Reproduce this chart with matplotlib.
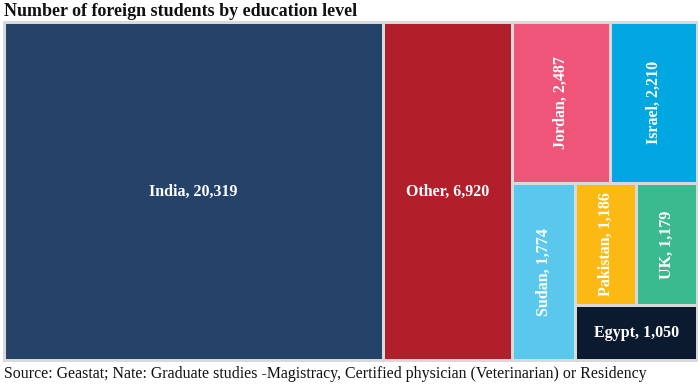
import matplotlib
matplotlib.use("Agg")
import matplotlib.pyplot as plt
from matplotlib.patches import Rectangle

countries = ["India", "Other", "Jordan", "Israel", "Sudan", "Pakistan", "UK", "Egypt"]
students = [20319, 6920, 2487, 2210, 1774, 1186, 1179, 1050]
colors = ["#254369", "#b11f2b", "#ef5479", "#00a7e1", "#5ac8ec", "#fdb913", "#3bb98f", "#0b1a2e"]

# nesting of the tiles: "h" splits side by side, "v" stacks top to bottom
layout = ("h", [0, 1, ("v", [("h", [2, 3]), ("h", [4, ("v", [("h", [5, 6]), 7])])])])

title = "Number of foreign students by education level"
source = "Source: Geastat; Nate: Graduate studies -Magistracy, Certified physician (Veterinarian) or Residency"

SERIF = ["Liberation Serif", "DejaVu Serif"]


def total(node):
    if isinstance(node, int):
        return students[node]
    return sum(total(c) for c in node[1])


def place(node, x, y, w, h, out):
    if isinstance(node, int):
        out[node] = (x, y, w, h)
        return
    direction, children = node
    s = total(node)
    pos = 0.0
    for c in children:
        frac = total(c) / s
        if direction == "h":
            place(c, x + pos * w, y, frac * w, h, out)
        else:
            place(c, x, y + pos * h, w, frac * h, out)
        pos += frac


fig = plt.figure(figsize=(7, 3.86), dpi=100)
ax = fig.add_axes([0, 0, 1, 1])
ax.set_xlim(0, 700)
ax.set_ylim(386, 0)
ax.axis("off")

# gray panel behind the tiles
ax.add_patch(Rectangle((3, 21), 695, 341, facecolor="#d9d9d9", edgecolor="none"))

rects = {}
place(layout, 4, 22.5, 693, 338, rects)
gap = 1.5
for i, name in enumerate(countries):
    x, y, w, h = rects[i]
    ax.add_patch(Rectangle((x + gap, y + gap), w - 2 * gap, h - 2 * gap,
                           facecolor=colors[i], edgecolor="none"))
    label = f"{name}, {students[i]:,}"
    rot = 90 if h > w * 1.2 and w < 120 else 0
    ax.text(x + w / 2, y + h / 2, label, color="white", fontsize=11.5,
            fontweight="bold", family=SERIF, ha="center", va="center",
            rotation=rot)

ax.text(4, 11, title, fontsize=13, fontweight="bold", family=SERIF,
        ha="left", va="center", color="#111111")
ax.text(4, 374, source, fontsize=11.4, family=SERIF, ha="left", va="center",
        color="#111111")

plt.savefig("out.png", dpi=100)
